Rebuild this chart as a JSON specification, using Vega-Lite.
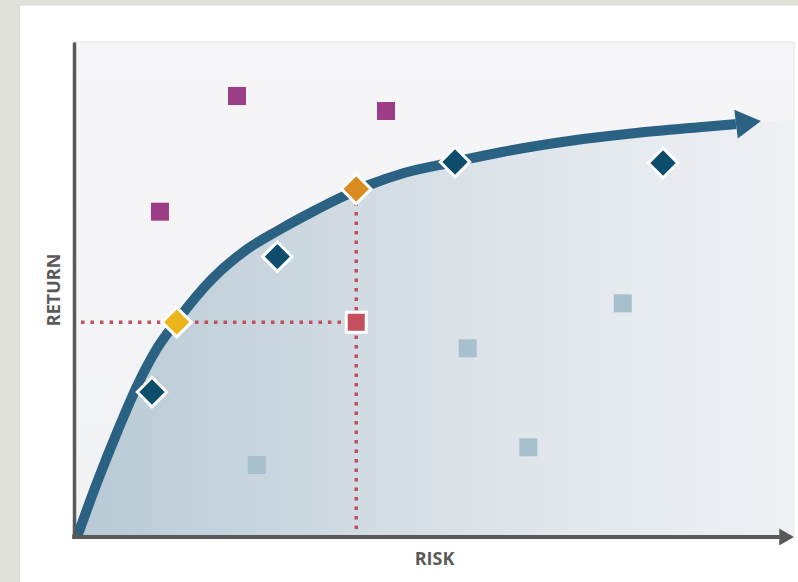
{
  "$schema": "https://vega.github.io/schema/vega-lite/v6.json",
  "width": 720,
  "height": 495,
  "autosize": {"type": "none"},
  "padding": {"left": 74, "top": 42, "right": 4, "bottom": 45},
  "background": "#e1e1dc",
  "config": {"view": {"stroke": null}, "axis": {"grid": false}},
  "datasets": {
    "panel": [{"x1": -7.5, "x2": 101, "y1": -10, "y2": 107.3}],
    "plot": [{"x1": 0, "x2": 100, "y1": 0, "y2": 100}],
    "curve": [
      {"risk": 0.42, "ret": 0},
      {"risk": 3.33, "ret": 11.52},
      {"risk": 6.11, "ret": 21.62},
      {"risk": 8.75, "ret": 30.5},
      {"risk": 11.39, "ret": 37.78},
      {"risk": 14.17, "ret": 43.43},
      {"risk": 19.17, "ret": 52.12},
      {"risk": 23.89, "ret": 57.98},
      {"risk": 28.47, "ret": 62.02},
      {"risk": 33.06, "ret": 65.66},
      {"risk": 37.5, "ret": 68.89},
      {"risk": 40.97, "ret": 71.11},
      {"risk": 45.83, "ret": 73.54},
      {"risk": 52.78, "ret": 75.76},
      {"risk": 59.44, "ret": 77.78},
      {"risk": 68.75, "ret": 80.0},
      {"risk": 78.06, "ret": 81.62},
      {"risk": 87.22, "ret": 82.83},
      {"risk": 91.94, "ret": 83.43}
    ],
    "shade": [
      {"risk": 0.42, "ret": 0},
      {"risk": 3.33, "ret": 11.52},
      {"risk": 6.11, "ret": 21.62},
      {"risk": 8.75, "ret": 30.5},
      {"risk": 11.39, "ret": 37.78},
      {"risk": 14.17, "ret": 43.43},
      {"risk": 19.17, "ret": 52.12},
      {"risk": 23.89, "ret": 57.98},
      {"risk": 28.47, "ret": 62.02},
      {"risk": 33.06, "ret": 65.66},
      {"risk": 37.5, "ret": 68.89},
      {"risk": 40.97, "ret": 71.11},
      {"risk": 45.83, "ret": 73.54},
      {"risk": 52.78, "ret": 75.76},
      {"risk": 59.44, "ret": 77.78},
      {"risk": 68.75, "ret": 80.0},
      {"risk": 78.06, "ret": 81.62},
      {"risk": 87.22, "ret": 82.83},
      {"risk": 91.94, "ret": 83.43},
      {"risk": 100, "ret": 84.3}
    ],
    "curveHead": [{"risk": 93.68, "ret": 83.74}],
    "xAxisLine": [{"x1": -0.25, "x2": 98, "y": 0}],
    "xAxisHead": [{"risk": 98.97, "ret": 0}],
    "guides": [
      {"x1": 0.97, "x2": 39.2, "y1": 43.4, "y2": 43.4},
      {"x1": 39.2, "x2": 39.2, "y1": 1.6, "y2": 70.3}
    ],
    "points": [
      {"kind": "unattainable", "risk": 22.64, "ret": 89.09},
      {"kind": "unattainable", "risk": 43.33, "ret": 86.06},
      {"kind": "unattainable", "risk": 11.94, "ret": 65.72},
      {"kind": "inefficient", "risk": 25.38, "ret": 14.55},
      {"kind": "inefficient", "risk": 76.21, "ret": 47.21},
      {"kind": "inefficient", "risk": 54.68, "ret": 38.12},
      {"kind": "inefficient", "risk": 63.1, "ret": 18.12},
      {"kind": "efficient", "risk": 10.83, "ret": 29.29},
      {"kind": "efficient", "risk": 28.24, "ret": 56.63},
      {"kind": "efficient", "risk": 52.92, "ret": 75.76},
      {"kind": "efficient", "risk": 81.81, "ret": 75.56},
      {"kind": "sameReturn", "risk": 14.26, "ret": 43.4},
      {"kind": "sameRisk", "risk": 39.2, "ret": 70.3},
      {"kind": "current", "risk": 39.2, "ret": 43.4}
    ]
  },
  "layer": [
    {
      "data": {"name": "panel"},
      "mark": {"type": "rect", "fill": "#ffffff"},
      "encoding": {
        "x": {"field": "x1", "type": "quantitative", "scale": {"domain": [0, 100]},
              "axis": {"title": "RISK", "domain": false, "ticks": false, "labels": false, "titleFont": "Open Sans", "titleFontWeight": "bold", "titleFontSize": 18, "titleColor": "#5a5a5a", "titlePadding": 13, "zindex": 1}},
        "x2": {"field": "x2"},
        "y": {"field": "y1", "type": "quantitative", "scale": {"domain": [0, 100]},
              "axis": {"title": "RETURN", "domain": true, "domainColor": "#58595b", "domainWidth": 3.5, "ticks": false, "labels": false, "titleFont": "Open Sans", "titleFontWeight": "bold", "titleFontSize": 18, "titleColor": "#5a5a5a", "titlePadding": 11, "zindex": 1}},
        "y2": {"field": "y2"}
      }
    },
    {
      "data": {"name": "plot"},
      "mark": {"type": "rect", "fill": {"gradient": "linear", "x1": 0, "y1": 0, "x2": 0, "y2": 1, "stops": [{"offset": 0, "color": "#f6f6f8"}, {"offset": 1, "color": "#f1f2f4"}]}, "stroke": "#e4e5e8", "strokeWidth": 1},
      "encoding": {
        "x": {"field": "x1", "type": "quantitative"},
        "x2": {"field": "x2"},
        "y": {"field": "y1", "type": "quantitative"},
        "y2": {"field": "y2"}
      }
    },
    {
      "data": {"name": "shade"},
      "mark": {"type": "area", "interpolate": "monotone",
               "fill": {"gradient": "linear", "x1": 0, "y1": 0, "x2": 1, "y2": 0,
                        "stops": [{"offset": 0, "color": "#b8cad6"}, {"offset": 0.3, "color": "#cbd7df"}, {"offset": 0.6, "color": "#dee5ea"}, {"offset": 1, "color": "#eff1f4"}]}},
      "encoding": {
        "x": {"field": "risk", "type": "quantitative"},
        "y": {"field": "ret", "type": "quantitative"}
      }
    },
    {
      "data": {"name": "guides"},
      "mark": {"type": "rule", "color": "#c24e5e", "strokeWidth": 3.5, "strokeDash": [3.5, 6]},
      "encoding": {
        "x": {"field": "x1", "type": "quantitative"},
        "x2": {"field": "x2"},
        "y": {"field": "y1", "type": "quantitative"},
        "y2": {"field": "y2"}
      }
    },
    {
      "data": {"name": "curve"},
      "mark": {"type": "line", "interpolate": "monotone", "color": "#2b6284", "strokeWidth": 10, "strokeCap": "butt"},
      "encoding": {
        "x": {"field": "risk", "type": "quantitative"},
        "y": {"field": "ret", "type": "quantitative"}
      }
    },
    {
      "data": {"name": "curveHead"},
      "mark": {"type": "point", "shape": "triangle-right", "size": 841, "angle": -7, "filled": true, "fill": "#2b6284", "opacity": 1, "strokeWidth": 0},
      "encoding": {
        "x": {"field": "risk", "type": "quantitative"},
        "y": {"field": "ret", "type": "quantitative"}
      }
    },
    {
      "data": {"name": "xAxisLine"},
      "mark": {"type": "rule", "color": "#58595b", "strokeWidth": 4},
      "encoding": {
        "x": {"field": "x1", "type": "quantitative"},
        "x2": {"field": "x2"},
        "y": {"field": "y", "type": "quantitative"}
      }
    },
    {
      "data": {"name": "xAxisHead"},
      "mark": {"type": "point", "shape": "triangle-right", "size": 289, "filled": true, "fill": "#58595b", "opacity": 1, "strokeWidth": 0},
      "encoding": {
        "x": {"field": "risk", "type": "quantitative"},
        "y": {"field": "ret", "type": "quantitative"}
      }
    },
    {
      "data": {"name": "points"},
      "transform": [{"filter": "datum.kind === 'unattainable'"}],
      "mark": {"type": "point", "shape": "square", "size": 324, "filled": true, "opacity": 1, "fill": "#9c3e85", "strokeWidth": 0},
      "encoding": {
        "x": {"field": "risk", "type": "quantitative"},
        "y": {"field": "ret", "type": "quantitative"}
      }
    },
    {
      "data": {"name": "points"},
      "transform": [{"filter": "datum.kind === 'inefficient'"}],
      "mark": {"type": "point", "shape": "square", "size": 324, "filled": true, "opacity": 1, "fill": "#a8bfcd", "strokeWidth": 0},
      "encoding": {
        "x": {"field": "risk", "type": "quantitative"},
        "y": {"field": "ret", "type": "quantitative"}
      }
    },
    {
      "data": {"name": "points"},
      "transform": [{"filter": "datum.kind === 'current'"}],
      "mark": {"type": "point", "shape": "square", "size": 400, "filled": true, "opacity": 1, "fill": "#c3505c", "stroke": "#ffffff", "strokeWidth": 3},
      "encoding": {
        "x": {"field": "risk", "type": "quantitative"},
        "y": {"field": "ret", "type": "quantitative"}
      }
    },
    {
      "data": {"name": "points"},
      "transform": [{"filter": "datum.kind === 'efficient'"}],
      "mark": {"type": "point", "shape": "diamond", "size": 870, "filled": true, "opacity": 1, "fill": "#0e4c6c", "stroke": "#ffffff", "strokeWidth": 3},
      "encoding": {
        "x": {"field": "risk", "type": "quantitative"},
        "y": {"field": "ret", "type": "quantitative"}
      }
    },
    {
      "data": {"name": "points"},
      "transform": [{"filter": "datum.kind === 'sameReturn'"}],
      "mark": {"type": "point", "shape": "diamond", "size": 870, "filled": true, "opacity": 1, "fill": "#e9b519", "stroke": "#ffffff", "strokeWidth": 3},
      "encoding": {
        "x": {"field": "risk", "type": "quantitative"},
        "y": {"field": "ret", "type": "quantitative"}
      }
    },
    {
      "data": {"name": "points"},
      "transform": [{"filter": "datum.kind === 'sameRisk'"}],
      "mark": {"type": "point", "shape": "diamond", "size": 870, "filled": true, "opacity": 1, "fill": "#d98b1e", "stroke": "#ffffff", "strokeWidth": 3},
      "encoding": {
        "x": {"field": "risk", "type": "quantitative"},
        "y": {"field": "ret", "type": "quantitative"}
      }
    }
  ]
}
